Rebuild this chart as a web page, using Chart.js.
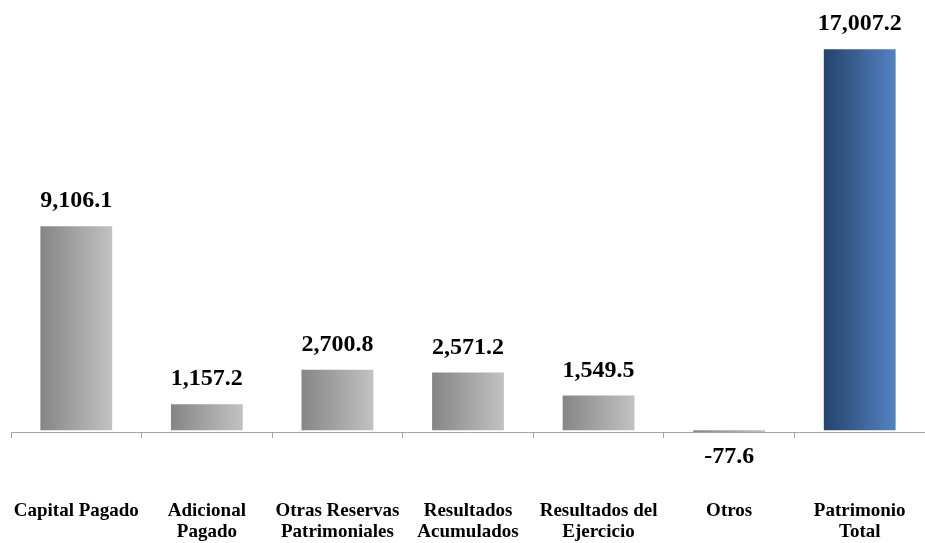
<!DOCTYPE html>
<html>
<head>
<meta charset="utf-8">
<script src="https://cdn.jsdelivr.net/npm/chart.js@4/dist/chart.umd.min.js"></script>
<style>
  html, body { margin: 0; padding: 0; background: #fff; }
  #wrap { width: 925px; height: 543px; position: relative; }
</style>
</head>
<body>
<div id="wrap"><canvas id="c" width="925" height="543"></canvas></div>
<script>
const categories = [
  'Capital Pagado',
  ['Adicional', 'Pagado'],
  ['Otras Reservas', 'Patrimoniales'],
  ['Resultados', 'Acumulados'],
  ['Resultados del', 'Ejercicio'],
  'Otros',
  ['Patrimonio', 'Total']
];
const values = [9106.1, 1157.2, 2700.8, 2571.2, 1549.5, -77.6, 17007.2];
const totalIndex = 6;

const grayStops = ['#858585', '#c2c2c2'];
const blueStops = ['#25436b', '#5283c2'];
const barPct = 0.55;

function barFill(context) {
  const chart = context.chart;
  const area = chart.chartArea;
  if (!area) return grayStops[0];
  const xs = chart.scales.x;
  const cx = xs.getPixelForValue(context.dataIndex);
  const half = (xs.width / categories.length) * barPct / 2;
  const g = chart.ctx.createLinearGradient(cx - half, 0, cx + half, 0);
  const stops = context.dataIndex === totalIndex ? blueStops : grayStops;
  g.addColorStop(0, stops[0]);
  g.addColorStop(1, stops[1]);
  return g;
}

const valueLabels = {
  id: 'valueLabels',
  afterDatasetsDraw(chart) {
    const ctx = chart.ctx;
    const meta = chart.getDatasetMeta(0);
    ctx.save();
    ctx.font = 'bold 24px "Liberation Serif", "Times New Roman", serif';
    ctx.fillStyle = '#000';
    ctx.textAlign = 'center';
    ctx.textBaseline = 'middle';
    meta.data.forEach((el, i) => {
      const v = values[i];
      const txt = v.toLocaleString('en-US', { minimumFractionDigits: 1, maximumFractionDigits: 1 });
      const y = v >= 0 ? el.y - 25 : el.y + 25;
      ctx.fillText(txt, el.x, y);
    });
    ctx.restore();
  }
};

new Chart(document.getElementById('c'), {
  type: 'bar',
  data: {
    labels: categories,
    datasets: [{
      data: values,
      backgroundColor: barFill,
      borderWidth: 0,
      categoryPercentage: 1,
      barPercentage: barPct
    }]
  },
  options: {
    responsive: false,
    animation: false,
    layout: { padding: { left: 11, right: 0, top: 0, bottom: 0 } },
    plugins: {
      legend: { display: false },
      tooltip: { enabled: false }
    },
    scales: {
      y: {
        display: false,
        min: -80,
        max: 19200
      },
      x: {
        afterFit(scale) {
          scale.paddingLeft = 0;
          scale.paddingRight = 0;
          scale.height = 111;
        },
        grid: {
          offset: true,
          drawOnChartArea: false,
          drawTicks: true,
          tickLength: 6,
          color: '#a6a6a6'
        },
        border: { display: true, color: '#a6a6a6', width: 1 },
        ticks: {
          padding: 63,
          maxRotation: 0,
          autoSkip: false,
          color: '#000',
          font: { family: '"Liberation Serif", "Times New Roman", serif', size: 19, weight: 'bold', lineHeight: 1.1 }
        }
      }
    }
  },
  plugins: [valueLabels]
});
</script>
</body>
</html>
